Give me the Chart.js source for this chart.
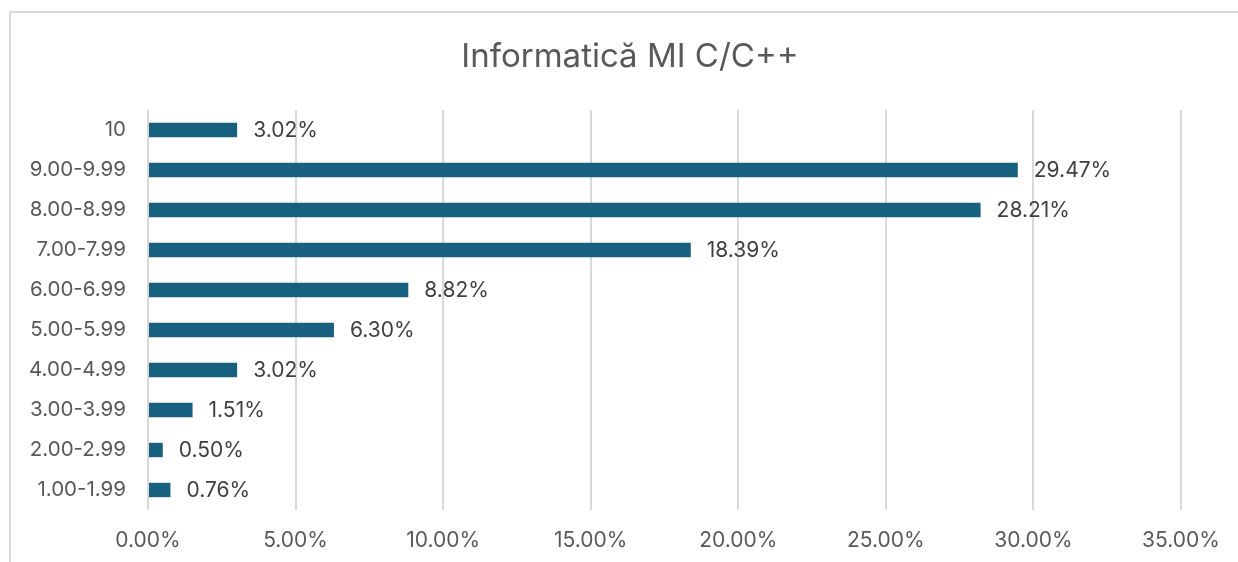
<!DOCTYPE html>
<html>
<head>
<meta charset="utf-8">
<script src="https://cdn.jsdelivr.net/npm/chart.js@4"></script>
<style>
  body { margin: 0; background: #fff; }
  #frame { position: absolute; left: 9px; top: 11px; width: 1300px; height: 600px;
           border-left: 2px solid #d9d9d9; border-top: 2px solid #d9d9d9; }
  #wrap { position: absolute; left: 0; top: 0; width: 1238px; height: 562px; }
</style>
</head>
<body>
<div id="frame"></div>
<div id="wrap"><canvas id="myChart"></canvas></div>
<script>
'use strict';

let categories = ['10', '9.00-9.99', '8.00-8.99', '7.00-7.99', '6.00-6.99',
    '5.00-5.99', '4.00-4.99', '3.00-3.99', '2.00-2.99', '1.00-1.99'];
let percents = [3.02, 29.47, 28.21, 18.39, 8.82, 6.30, 3.02, 1.51, 0.50, 0.76];
let chartTitle = 'Informatică MI C/C++';

let fontFamily = 'Inter, "Open Sans", sans-serif';

// draws the value next to the end of each bar
let valueLabels = {
    id: 'valueLabels',
    afterDatasetsDraw(chart) {
        let ctx = chart.ctx;
        let meta = chart.getDatasetMeta(0);
        ctx.save();
        ctx.font = '21px ' + fontFamily;
        ctx.fillStyle = '#404040';
        ctx.textAlign = 'left';
        ctx.textBaseline = 'middle';
        meta.data.forEach(function (bar, i) {
            ctx.fillText(percents[i].toFixed(2) + '%', bar.x + 16, bar.y + 1);
        });
        ctx.restore();
    }
};

// title centred on the whole frame, not only on the canvas box
let frameTitle = {
    id: 'frameTitle',
    afterDraw(chart) {
        let ctx = chart.ctx;
        ctx.save();
        ctx.font = '33px ' + fontFamily;
        ctx.fillStyle = '#595959';
        ctx.textAlign = 'center';
        ctx.textBaseline = 'middle';
        ctx.fillText(chartTitle, 630, 57);
        ctx.restore();
    }
};

let ctx = document.getElementById('myChart').getContext('2d');
let myChart = new Chart(ctx, {
    type: 'bar',
    data: {
        labels: categories,
        datasets: [{
            data: percents,
            backgroundColor: '#17607f',
            borderWidth: 0,
            barPercentage: 0.36,
            categoryPercentage: 1
        }]
    },
    options: {
        indexAxis: 'y',
        responsive: true,
        maintainAspectRatio: false,
        animation: false,
        layout: { padding: { left: 0, right: 57, top: 110, bottom: 11 } },
        plugins: {
            legend: { display: false },
            tooltip: { enabled: false },
            title: { display: false }
        },
        scales: {
            x: {
                min: 0,
                max: 35,
                afterFit: function (scale) { scale.height = 41; },
                ticks: {
                    stepSize: 5,
                    color: '#595959',
                    font: { family: fontFamily, size: 21 },
                    padding: 18,
                    maxRotation: 0,
                    callback: function (v) { return v.toFixed(2) + '%'; }
                },
                grid: { color: '#d9d9d9', lineWidth: 2, drawTicks: false },
                border: { display: false }
            },
            y: {
                afterFit: function (scale) { scale.width = 148; },
                ticks: {
                    color: '#595959',
                    font: { family: fontFamily, size: 20.5 },
                    padding: 14
                },
                grid: { display: false },
                border: { display: false }
            }
        }
    },
    plugins: [valueLabels, frameTitle]
});
</script>
</body>
</html>
